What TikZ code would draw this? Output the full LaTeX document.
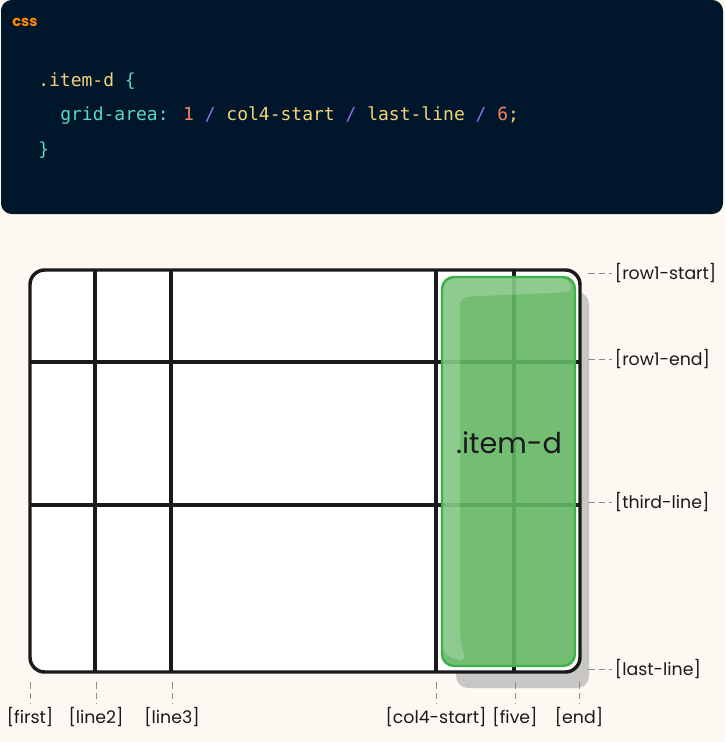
\documentclass[tikz,border=0pt]{standalone}
\usepackage{fontspec}
\setmainfont{Poppins}
\newfontfamily\codefont{DejaVu Sans Mono}
\usepackage{tikz}
\definecolor{cream}{HTML}{FDF8F2}
\definecolor{navy}{HTML}{00172B}
\definecolor{cteal}{HTML}{5DD6C2}
\definecolor{cyellow}{HTML}{F4D27A}
\definecolor{corange}{HTML}{F4845C}
\definecolor{cpurple}{HTML}{8B6CF2}
\definecolor{langorange}{HTML}{FF8A00}
\definecolor{ink}{HTML}{1A1A1A}
\definecolor{itemgreen}{HTML}{64B864}
\definecolor{itemedge}{HTML}{3DB04A}
\definecolor{shadowgrey}{HTML}{C9C7C5}
\tikzstyle{code}=[anchor=base west, inner sep=0pt, font=\codefont\fontsize{13.5}{16}\selectfont]
\tikzstyle{gridline}=[draw=ink, line width=2.6pt]
\tikzstyle{tick}=[draw=black!45, dashed, dash pattern=on 5pt off 3pt, line width=0.6pt]
\tikzstyle{tag}=[inner sep=2pt, text=ink, font=\fontsize{13}{15}\selectfont]

\begin{document}
\begin{tikzpicture}[x=0.75pt, y=-0.75pt]
	\useasboundingbox (0,0) rectangle (725,742);
	\fill[cream] (0,0) rectangle (725,742);
	% code panel
	\fill[navy, rounded corners=8pt] (1,0) rectangle (723,214);
	\node[anchor=base west, inner sep=0pt, text=langorange, font=\bfseries\fontsize{11}{12}\selectfont] (lang) at (12,27) {css};
	\node[code] (l1) at (38,86) {\color{cyellow}.item-d \color{cteal}\{};
	\node[code] (l2) at (60,120) {\color{cteal}grid-area: \color{corange}1 \color{cpurple}/ \color{cyellow}col4-start \color{cpurple}/ \color{cyellow}last-line \color{cpurple}/ \color{corange}6\color{cyellow};};
	\node[code] (l3) at (38,155) {\color{cteal}\}};
	% shadow of the item
	\fill[shadowgrey, rounded corners=9pt] (456,292) rectangle (589,688);
	% grid
	\fill[white, rounded corners=11pt] (30,270) rectangle (580,672);
	\foreach \x in {95,171,436,514}
		\draw[gridline] (\x,270) -- (\x,672);
	\foreach \y in {362,505}
		\draw[gridline] (30,\y) -- (580,\y);
	\draw[gridline, rounded corners=11pt] (30,270) rectangle (580,672);
	% item-d
	\fill[itemgreen, fill opacity=0.9, rounded corners=9pt] (442,277) rectangle (575,666);
	\fill[white, opacity=0.2, rounded corners=6pt] (443,655) -- (443,284) -- (450,278) -- (568,278) -- (573,292) -- (460,297) -- (460,640) -- (466,662) -- cycle;
	\draw[draw=itemedge, line width=1.8pt, rounded corners=9pt] (442,277) rectangle (575,666);
	\node[text=ink, font=\fontsize{21.5}{25}\selectfont] (item) at (509,443) {.item-d};
	% row lines
	\foreach \name/\y/\txt in {rs/273/{[row1-start]}, re/359/{[row1-end]}, rt/502/{[third-line]}, rl/669/{[last-line]}} {
		\coordinate (\name) at (588,\y);
		\node[tag, anchor=west] (t\name) at (612,\y) {\txt};
		\draw[tick] (\name) -- (t\name.west);
	}
	% column lines
	\foreach \name/\x/\txt in {cf/30/{[first]}, c2/96/{[line2]}, c3/172/{[line3]}, cc/436/{[col4-start]}, cv/515/{[five]}, ce/579/{[end]}} {
		\coordinate (\name) at (\x,682);
		\node[tag, anchor=north] (t\name) at (\x,704) {\txt};
		\draw[tick] (\name) -- (t\name.north);
	}
\end{tikzpicture}
\end{document}
